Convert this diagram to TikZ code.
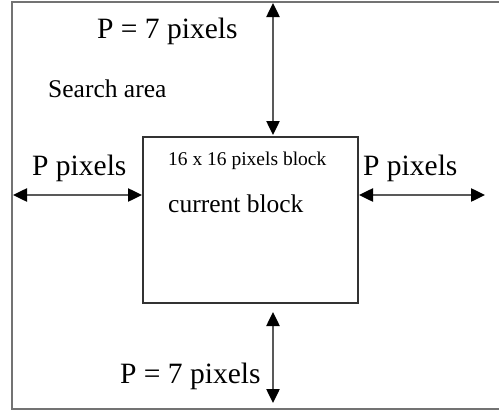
\documentclass[tikz,border=0pt]{standalone}
\usepackage{fontspec}
\setmainfont{Liberation Serif}
\usetikzlibrary{arrows.meta}
\begin{document}
\begin{tikzpicture}[x=1pt,y=-1pt,
  frame/.style={draw=black!55, line width=2.5pt},
  blockbox/.style={draw=black!80, line width=1.8pt, minimum width=215pt, minimum height=166pt, inner sep=0pt},
  tip/.tip={Triangle[length=14pt,width=13pt,color=black,fill=black]},
  dimarrow/.style={draw=black!65, line width=2.5pt, tip-tip},
  lbl/.style={anchor=base west, inner sep=0pt, text=black},
  big/.style={lbl, font=\fontsize{29.5}{29.5}\selectfont},
  mid/.style={lbl, font=\fontsize{25.5}{25.5}\selectfont},
  small/.style={lbl, font=\fontsize{19.5}{19.5}\selectfont}]
\useasboundingbox (0,0) rectangle (499,415);
% outer search area (open on the right)
\coordinate (tr) at (499,2);
\coordinate (tl) at (12,2);
\coordinate (bl) at (12,409);
\coordinate (br) at (499,409);
\draw[frame] (tr) -- (tl) -- (bl) -- (br);
% current block
\node[blockbox] (blk) at (250.5,220) {};
% arrow end points
\coordinate (topA) at (273,3);
\coordinate (topB) at (273,135);
\coordinate (botA) at (273,312);
\coordinate (botB) at (273,403);
\coordinate (leftA) at (13,195);
\coordinate (leftB) at (142,195);
\coordinate (rightA) at (359,195);
\coordinate (rightB) at (485,195);
\draw[dimarrow] (topA) -- (topB);
\draw[dimarrow] (botA) -- (botB);
\draw[dimarrow] (leftA) -- (leftB);
\draw[dimarrow] (rightA) -- (rightB);
% labels
\node[big] (ptop) at (97,38) {P = 7 pixels};
\node[mid] (search) at (48,97) {Search area};
\node[big] (pleft) at (32,175) {P pixels};
\node[big] (pright) at (363,175) {P pixels};
\node[small] (size) at (168,165) {16 x 16 pixels block};
\node[mid] (cur) at (168,212) {current block};
\node[big] (pbot) at (120,383) {P = 7 pixels};
\end{tikzpicture}
\end{document}
